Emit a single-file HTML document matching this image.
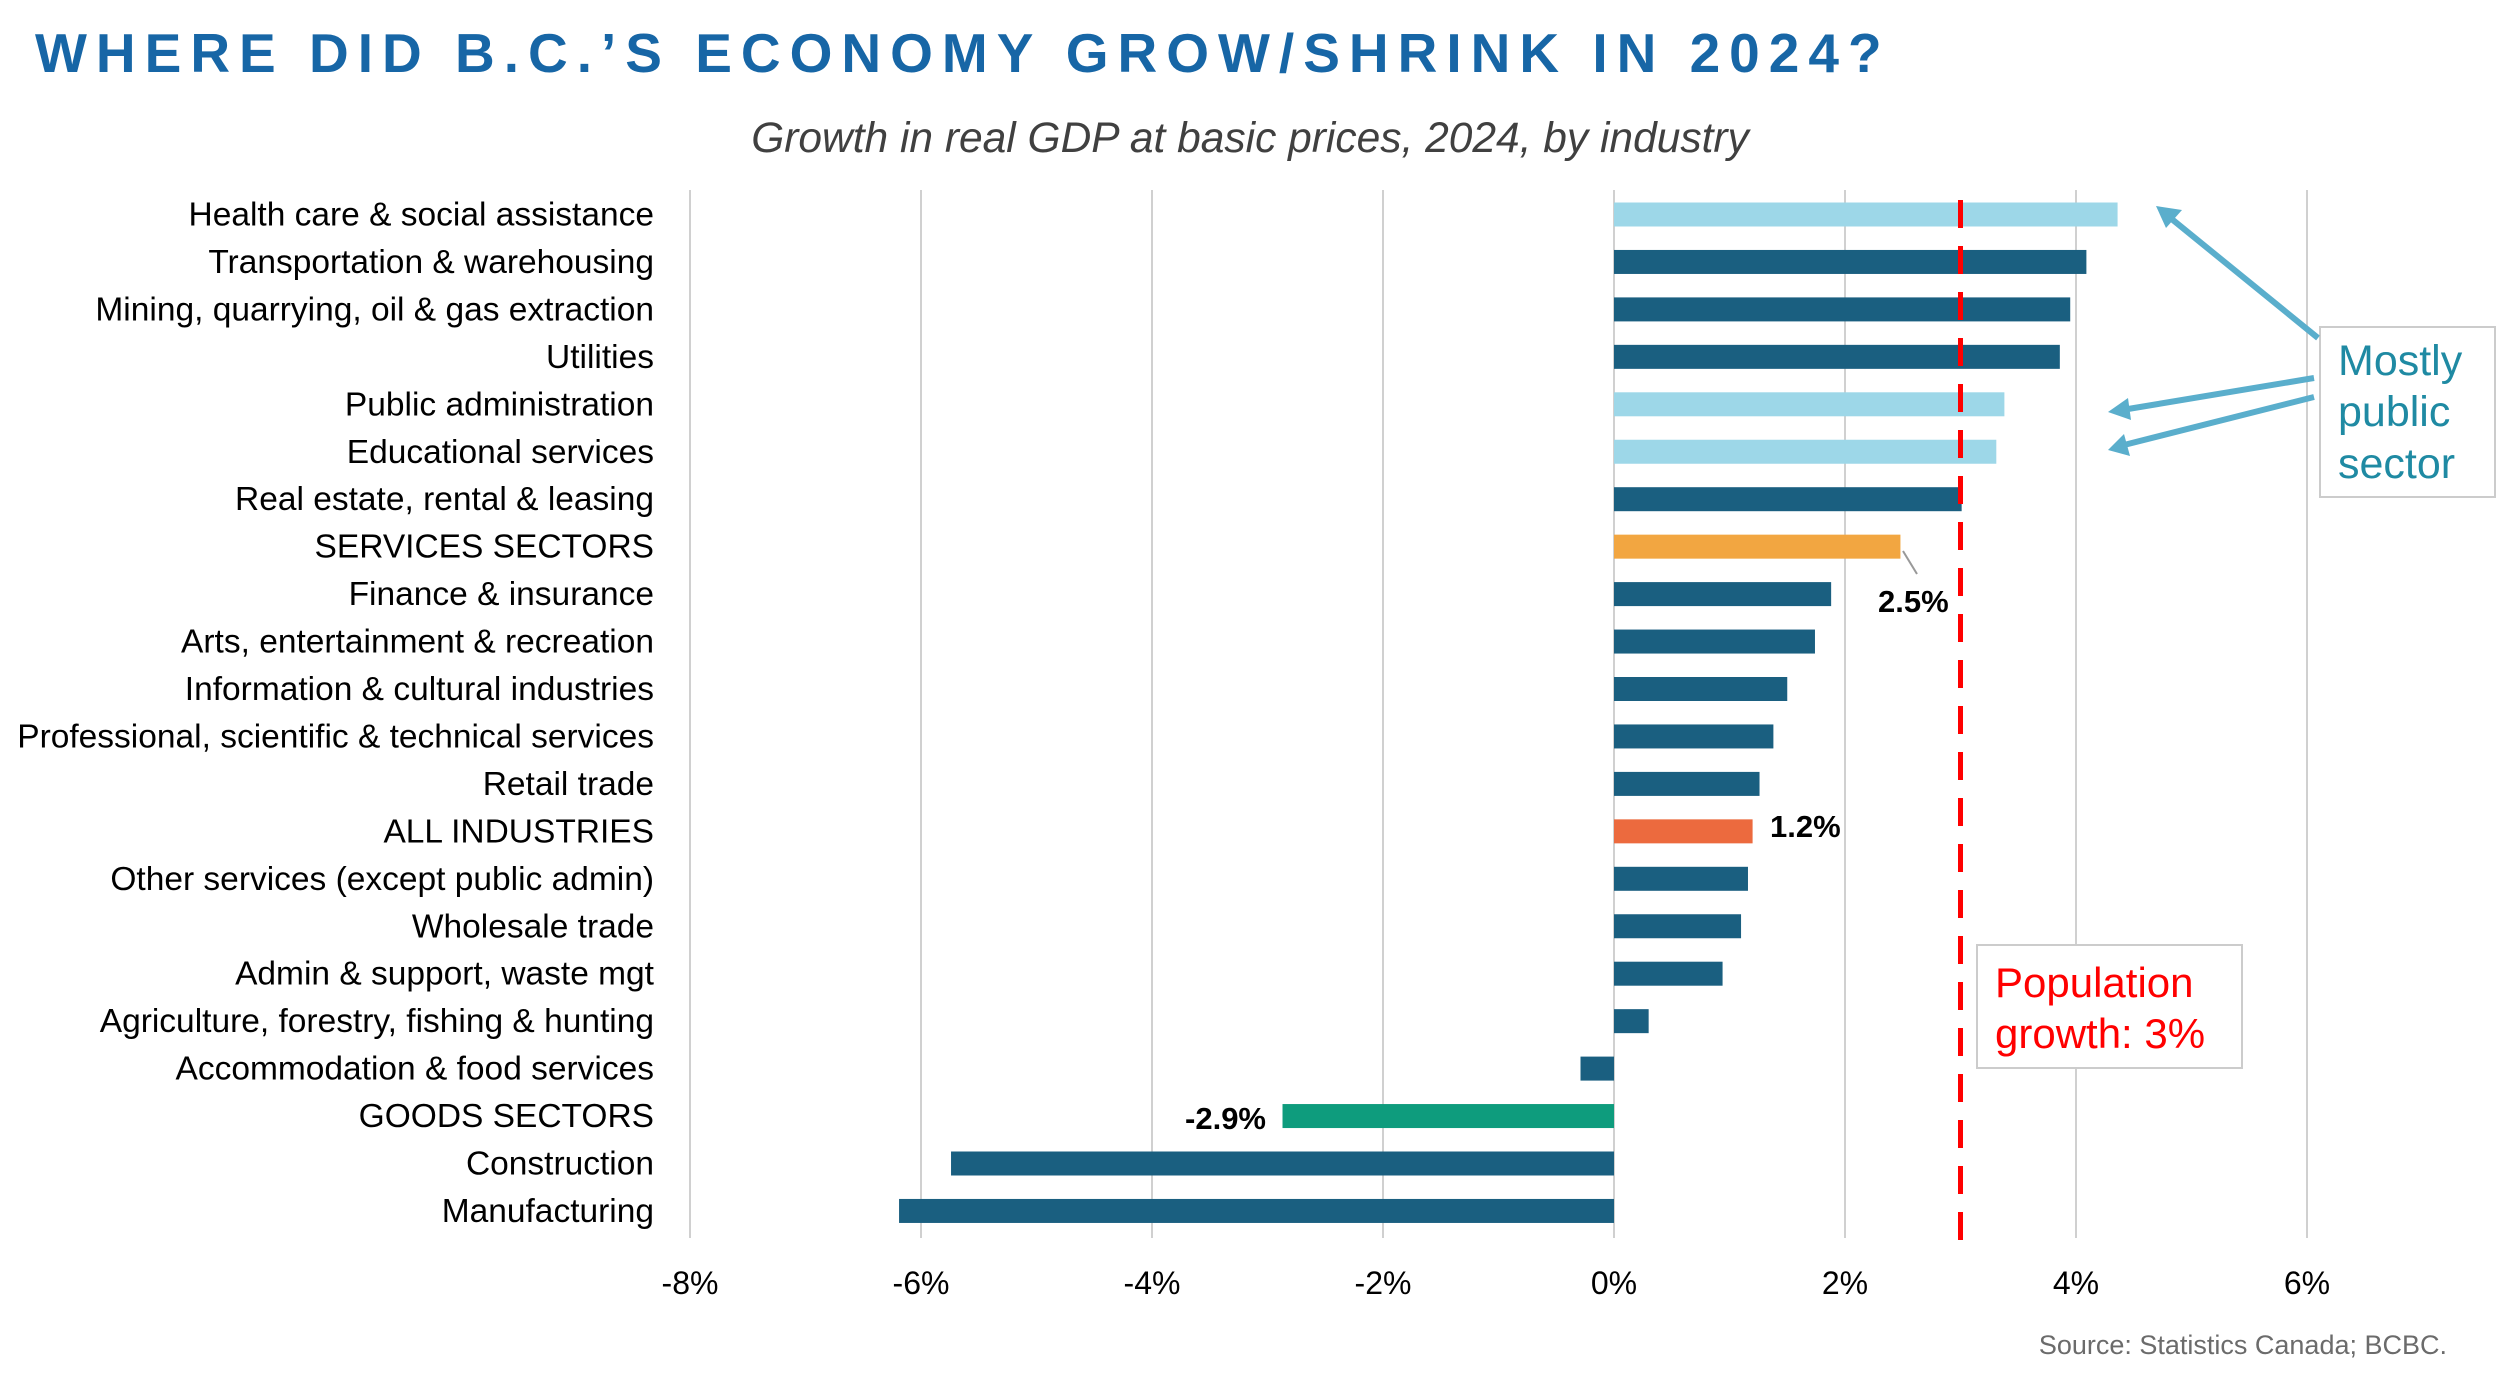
<!DOCTYPE html>
<html><head><meta charset="utf-8"><style>
body{margin:0;background:#fff;width:2500px;height:1378px;overflow:hidden;font-family:"Liberation Sans",sans-serif}
</style></head><body>
<svg id="c" width="2500" height="1378" xmlns="http://www.w3.org/2000/svg">
<text x="35" y="72" font-size="55" font-weight="bold" fill="#1766a6" letter-spacing="9">WHERE DID B.C.’S ECONOMY GROW/SHRINK IN 2024?</text>
<text x="1250" y="152" font-size="42.5" font-style="italic" fill="#404040" text-anchor="middle">Growth in real GDP at basic prices, 2024, by industry</text>
<g id="grid"></g><g id="bars"></g><g id="ylab"></g><g id="xlab"></g>
<line id="popline" y1="200" y2="1240" stroke="#f00" stroke-width="5" stroke-dasharray="28,18"/>
<g>
<rect x="1977" y="945" width="265" height="123" fill="#fff" stroke="#ccc" stroke-width="2"/>
<text x="1995" y="997" font-size="42" fill="#f00">Population</text>
<text x="1995" y="1048" font-size="42" fill="#f00">growth: 3%</text>
</g>
<g>
<rect x="2320" y="327" width="175" height="170" fill="#fff" stroke="#ccc" stroke-width="2"/>
<text x="2338" y="375" font-size="43" fill="#1f8aa3">Mostly</text>
<text x="2338" y="426" font-size="43" fill="#1f8aa3">public</text>
<text x="2338" y="478" font-size="43" fill="#1f8aa3">sector</text>
<g stroke="#5aaecc" stroke-width="6" fill="#5aaecc">
<line x1="2318" y1="338" x2="2168" y2="216"/><polygon points="2156,206 2182,210 2166,228" stroke="none"/>
<line x1="2314" y1="378" x2="2122" y2="410"/><polygon points="2108,412 2128,398 2131,420" stroke="none"/>
<line x1="2314" y1="397" x2="2120" y2="446"/><polygon points="2108,450 2124,434 2130,456" stroke="none"/>
</g></g>
<line x1="1903" y1="551" x2="1917" y2="574" stroke="#999" stroke-width="2"/>
<text x="1878" y="612" font-size="31" font-weight="bold">2.5%</text>
<text x="1770" y="837" font-size="31" font-weight="bold">1.2%</text>
<text x="1266" y="1129" font-size="31" font-weight="bold" text-anchor="end">-2.9%</text>
<text x="2447" y="1354" font-size="27" fill="#6b6b6b" text-anchor="end">Source: Statistics Canada; BCBC.</text>
</svg>
<script>
const categories=["Health care & social assistance","Transportation & warehousing","Mining, quarrying, oil & gas extraction","Utilities","Public administration","Educational services","Real estate, rental & leasing","SERVICES SECTORS","Finance & insurance","Arts, entertainment & recreation","Information & cultural industries","Professional, scientific & technical services","Retail trade","ALL INDUSTRIES","Other services (except public admin)","Wholesale trade","Admin & support, waste mgt","Agriculture, forestry, fishing & hunting","Accommodation & food services","GOODS SECTORS","Construction","Manufacturing"];
const values=[4.36,4.09,3.95,3.86,3.38,3.31,3.01,2.48,1.88,1.74,1.50,1.38,1.26,1.20,1.16,1.10,0.94,0.30,-0.29,-2.87,-5.74,-6.19];
const kinds=["pub","d","d","d","pub","pub","d","svc","d","d","d","d","d","all","d","d","d","d","d","goods","d","d"];
const ticks=[-8,-6,-4,-2,0,2,4,6];
const popGrowth=3;
const colors={d:"#1a5f80",pub:"#9dd7e8",svc:"#f2a641",all:"#ec6a3e",goods:"#0e9c7d"};
const NS="http://www.w3.org/2000/svg";
const x=v=>1614+v*115.5;
const yc=i=>214.5+i*47.45;
function mk(t,a,p){const e=document.createElementNS(NS,t);for(const k in a)e.setAttribute(k,a[k]);document.getElementById(p).appendChild(e);return e;}
ticks.forEach(t=>{
 const l=mk("line",{x1:x(t),x2:x(t),y1:190,y2:1238,stroke:"#d0d0d0","stroke-width":2},"grid");
 
 
 const tx=mk("text",{x:x(t),y:1294,"font-size":32,"text-anchor":"middle",fill:"#000"},"xlab");
 tx.textContent=t+"%";
 
 
});
categories.forEach((c,i)=>{
 const v=values[i];
 const r=mk("rect",{x:Math.min(x(0),x(v)),y:yc(i)-12,width:Math.abs(x(v)-x(0)),height:24,fill:colors[kinds[i]]},"bars");
 
 
 const t=mk("text",{x:654,y:yc(i)+11,"font-size":33.5,"text-anchor":"end",fill:"#000"},"ylab");
 t.textContent=c;
 
 
});
const pl=document.getElementById("popline");pl.setAttribute("x1",x(popGrowth));pl.setAttribute("x2",x(popGrowth));
</script>
</body></html>
